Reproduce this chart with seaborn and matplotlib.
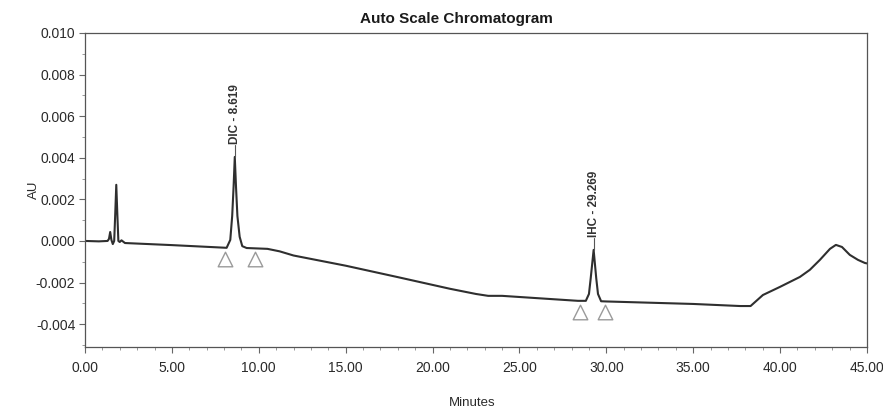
import matplotlib
matplotlib.use("Agg")
import matplotlib.pyplot as plt
import seaborn as sns
import pandas as pd
from matplotlib.ticker import MultipleLocator, FormatStrFormatter

# Detector trace: retention time (min) and response (AU); peak apexes come from the peak table
time_min = [0.00, 0.80, 1.30, 1.38, 1.45, 1.52, 1.60, 1.68, 1.74, 1.86, 1.92,
            2.00, 2.10, 2.30, 5.00, 8.15, 8.36, 8.47, 8.55, 8.69, 8.77, 8.90,
            9.05, 9.30, 10.50, 11.20, 12.00, 15.00, 18.00, 21.00, 22.50, 23.20,
            24.00, 26.00, 28.37, 28.82, 29.00, 29.10, 29.42, 29.52, 29.70, 30.00,
            35.00, 37.70, 38.30, 39.01, 39.99, 41.14, 41.71, 42.29, 42.87, 43.21,
            43.56, 44.01, 44.48, 44.88, 45.00]
response_au = [0.00000, -0.00002, 0.00000, 0.00010, 0.00043, 0.00005, -0.00015, 0.00000,
               0.00130, 0.00130, 0.00000, -0.00005, 0.00003, -0.00010, -0.00020, -0.00033,
               0.00005, 0.00120, 0.00260, 0.00260, 0.00120, 0.00020, -0.00025, -0.00034,
               -0.00038, -0.00050, -0.00070, -0.00119, -0.00174, -0.00230, -0.00255, -0.00264,
               -0.00264, -0.00275, -0.00288, -0.00288, -0.00255, -0.00180, -0.00180, -0.00255,
               -0.00290, -0.00291, -0.00303, -0.00313, -0.00313, -0.00260, -0.00221, -0.00173,
               -0.00139, -0.00091, -0.00038, -0.00019, -0.00029, -0.00067, -0.00091, -0.00106,
               -0.00108]

# Early unretained peak apex
front_rt = [1.80]
front_au = [0.00270]

# Integrated peaks
peak_names = ["DIC", "IHC"]
peak_rt = [8.619, 29.269]
peak_au = [0.00404, -0.00043]

# Integration start / stop markers
mark_min = [8.05, 9.78, 28.48, 29.92]
mark_au = [-0.00087, -0.00087, -0.00341, -0.00341]

x_ticks = [0, 5, 10, 15, 20, 25, 30, 35, 40, 45]
y_ticks = [-0.004, -0.002, 0.000, 0.002, 0.004, 0.006, 0.008, 0.010]

sns.set_theme(style="white")
plt.rcParams["font.family"] = ["Liberation Sans Narrow", "Liberation Sans", "DejaVu Sans"]

trace = pd.DataFrame({
    "Minutes": time_min + front_rt + peak_rt,
    "AU": response_au + front_au + peak_au,
}).sort_values("Minutes")
marks = pd.DataFrame({"Minutes": mark_min, "AU": mark_au})

fig = plt.figure(figsize=(8.83, 4.19), dpi=100)
ax = fig.add_axes([85 / 883, 1 - 347 / 419, (867 - 85) / 883, (347 - 33) / 419])

sns.lineplot(data=trace, x="Minutes", y="AU", estimator=None, sort=False,
             color="#2f2f2f", linewidth=1.5, ax=ax)
sns.scatterplot(data=marks, x="Minutes", y="AU", marker="^", s=110,
                facecolor="white", edgecolor="#9a9a9a", linewidth=1.0, ax=ax, zorder=3)

# Peak labels with a short leader above each apex
lead = 0.00055
for name, rt, au in zip(peak_names, peak_rt, peak_au):
    ax.plot([rt, rt], [au, au + lead], color="#555555", lw=0.8)
    ax.text(rt, au + lead + 0.00005, f"{name} - {rt:.3f}", rotation=90,
            ha="center", va="bottom", fontsize=8.5, color="#333333",
            family=["Liberation Sans", "DejaVu Sans"], fontweight="bold")

ax.set_xlim(0, 45)
ax.set_ylim(-0.0051, 0.010)
ax.set_xticks(x_ticks)
ax.set_yticks(y_ticks)
ax.xaxis.set_major_formatter(FormatStrFormatter("%.2f"))
ax.yaxis.set_major_formatter(FormatStrFormatter("%.3f"))
ax.xaxis.set_minor_locator(MultipleLocator(1))
ax.yaxis.set_minor_locator(MultipleLocator(0.001))
ax.tick_params(axis="both", which="major", direction="out", length=4, width=0.8,
               color="#666666", labelsize=10, labelcolor="#2a2a2a", pad=3)
ax.tick_params(axis="x", which="major", pad=6)
ax.tick_params(axis="both", which="minor", direction="out", length=2.5, width=0.6,
               color="#888888")
ax.tick_params(bottom=True, left=True, which="both")

for side in ["left", "right", "top", "bottom"]:
    ax.spines[side].set_visible(True)
    ax.spines[side].set_color("#555555")
    ax.spines[side].set_linewidth(0.9)

ax.set_xlabel("Minutes", fontsize=9.5, color="#2a2a2a")
ax.set_ylabel("AU", fontsize=9.5, color="#2a2a2a")
ax.xaxis.set_label_coords((472 - 85) / 782, (347 - 397) / 314)
ax.yaxis.set_label_coords((40 - 85) / 782, 0.5)

fig.text(456 / 883, 1 - 19 / 419, "Auto Scale Chromatogram", ha="center", va="center",
         fontsize=11, fontweight="bold", color="#1a1a1a",
         family=["Liberation Sans", "DejaVu Sans"])

fig.savefig("out.png", dpi=100, facecolor="white")
